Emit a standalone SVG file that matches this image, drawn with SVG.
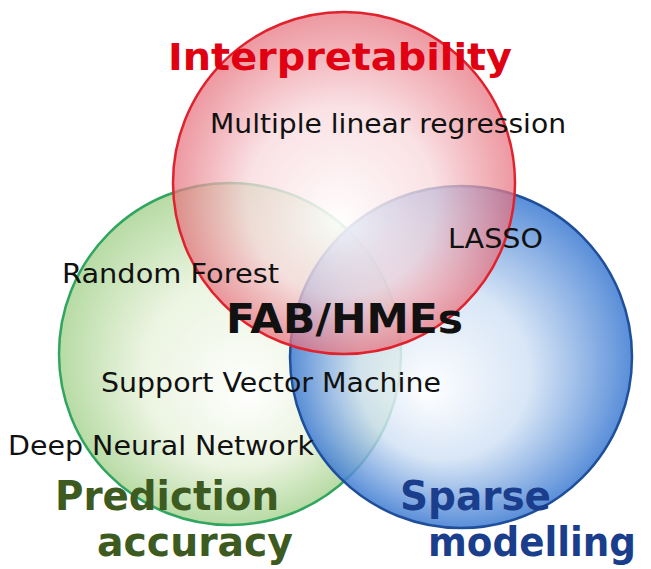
<svg xmlns="http://www.w3.org/2000/svg" width="651" height="569" viewBox="0 0 651 569">
<style>
.c{stroke-width:2.5}
.t{font-family:"DejaVu Sans","Noto Sans",sans-serif;fill:#111}
.b{font-family:"DejaVu Sans","Noto Sans",sans-serif;font-weight:bold}
</style>
<defs>
<radialGradient id="gr" cx="0.5" cy="0.5" r="0.5" fx="0.48" fy="0.62">
<stop offset="0" stop-color="#ffffff" stop-opacity="0.9"/>
<stop offset="0.55" stop-color="#f8d8dc" stop-opacity="0.75"/>
<stop offset="1" stop-color="#e6707c" stop-opacity="0.72"/>
</radialGradient>
<radialGradient id="gg" cx="0.5" cy="0.5" r="0.5" fx="0.55" fy="0.62">
<stop offset="0" stop-color="#ffffff" stop-opacity="0.9"/>
<stop offset="0.55" stop-color="#e6f1d8" stop-opacity="0.75"/>
<stop offset="1" stop-color="#9fcf86" stop-opacity="0.75"/>
</radialGradient>
<radialGradient id="gb" cx="0.5" cy="0.5" r="0.5" fx="0.4" fy="0.6">
<stop offset="0" stop-color="#ffffff" stop-opacity="0.9"/>
<stop offset="0.5" stop-color="#cfe0f4" stop-opacity="0.8"/>
<stop offset="1" stop-color="#3c7ad2" stop-opacity="0.85"/>
</radialGradient>
</defs>
<g id="circles">
<g id="green"><circle class="c" cx="230" cy="354" r="171" fill="url(#gg)" stroke="#2fa560"/></g>
<g id="blue"><circle class="c" cx="461" cy="357" r="171" fill="url(#gb)" stroke="#1f4f9a"/></g>
<g id="red"><circle class="c" cx="344" cy="183" r="171" fill="url(#gr)" stroke="#e0222e"/></g>
</g>
<g id="labels">
<text class="b" x="168" y="70" font-size="38" fill="#e00012" textLength="344" lengthAdjust="spacingAndGlyphs">Interpretability</text>
<text class="t" x="210" y="133" font-size="26" textLength="356" lengthAdjust="spacingAndGlyphs">Multiple linear regression</text>
<text class="t" x="448" y="248" font-size="26" textLength="95" lengthAdjust="spacingAndGlyphs">LASSO</text>
<text class="t" x="62" y="283" font-size="26" textLength="217" lengthAdjust="spacingAndGlyphs">Random Forest</text>
<text class="b" x="226" y="333" font-size="40" fill="#111" textLength="237" lengthAdjust="spacingAndGlyphs">FAB/HMEs</text>
<text class="t" x="101" y="392" font-size="26" textLength="340" lengthAdjust="spacingAndGlyphs">Support Vector Machine</text>
<text class="t" x="8" y="455" font-size="26" textLength="306" lengthAdjust="spacingAndGlyphs">Deep Neural Network</text>
<text class="b" x="55" y="510" font-size="40" fill="#3d5b20" textLength="224" lengthAdjust="spacingAndGlyphs">Prediction</text>
<text class="b" x="97" y="556" font-size="40" fill="#3d5b20" textLength="196" lengthAdjust="spacingAndGlyphs">accuracy</text>
<text class="b" x="400" y="510" font-size="40" fill="#1a3e8c" textLength="151" lengthAdjust="spacingAndGlyphs">Sparse</text>
<text class="b" x="428" y="556" font-size="40" fill="#1a3e8c" textLength="208" lengthAdjust="spacingAndGlyphs">modelling</text>
</g>
</svg>
